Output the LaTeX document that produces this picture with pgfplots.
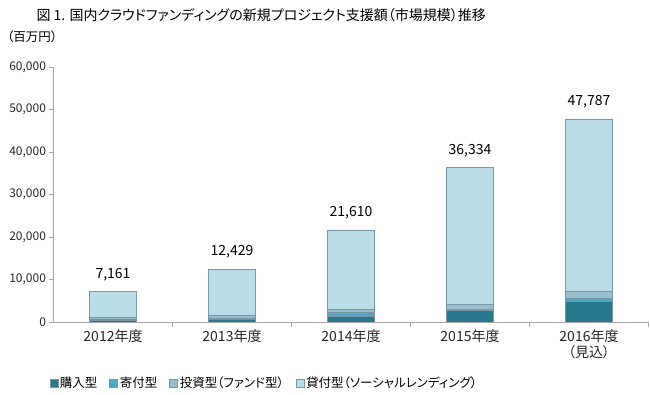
\documentclass[border=0pt]{standalone}
\usepackage{pgfplots}
\pgfplotsset{compat=1.18}
\usepackage{fontspec}
\setmainfont[RawFeature=+palt]{Noto Sans CJK JP}
\definecolor{cPur}{RGB}{40,120,142}
\definecolor{cDon}{RGB}{75,170,196}
\definecolor{cInv}{RGB}{150,190,204}
\definecolor{cLen}{RGB}{185,222,234}
\definecolor{cEdge}{RGB}{120,150,165}
\begin{document}
\begin{tikzpicture}[x=1pt,y=1pt]
\begin{axis}[
  at={(53.5pt,73pt)}, anchor=south west,
  scale only axis, width=595pt, height=255pt,
  ybar stacked, bar width=47pt,
  xmin=-0.5, xmax=4.5, ymin=0, ymax=60000,
  xtick={0,1,2,3,4},
  xticklabels={2012年度,2013年度,2014年度,2015年度,{2016年度\\（見込）}},
  xticklabel style={align=center, font=\fontsize{14}{16}\selectfont, text=black!85},
  minor xtick={0.5,1.5,2.5,3.5,4.5},
  major x tick style={draw=none},
  minor x tick style={draw=gray!70, thin},
  minor tick length=5pt,
  ytick={0,10000,20000,30000,40000,50000,60000},
  scaled y ticks=false,
  yticklabel style={font=\fontsize{12}{14}\selectfont, text=black!85, /pgf/number format/.cd, 1000 sep={,}, assume math mode=true},
  y tick style={draw=gray!70, thin},
  major tick length=4pt,
  tick align=outside, tick pos=left,
  axis x line*=bottom, axis y line*=left,
  axis line style={draw=gray!70, thin},
  x axis line style={-}, y axis line style={-},
  legend style={at={(-0.012,-0.24)}, anchor=west, draw=none, fill=none,
    font=\fontsize{12.5}{14}\selectfont, legend columns=4,
    /tikz/every even column/.append style={column sep=10pt}},
  legend image code/.code={\draw[#1, draw=cEdge] (0pt,-4pt) rectangle (8pt,4pt);},
  every axis plot/.append style={draw=cEdge, line width=0.4pt},
]
\addplot[fill=cPur] coordinates {(0,500) (1,700) (2,1250) (3,2700) (4,4900)};
\addplot[fill=cDon] coordinates {(0,200) (1,200) (2,1000) (3,350) (4,600)};
\addplot[fill=cInv] coordinates {(0,450) (1,700) (2,700) (3,1100) (4,1800)};
\addplot[fill=cLen] coordinates {(0,6011) (1,10829) (2,18660) (3,32184) (4,40487)};
\legend{購入型,寄付型,投資型（ファンド型）,貸付型（ソーシャルレンディング）}
\end{axis}
\begin{axis}[
  at={(53.5pt,73pt)}, anchor=south west,
  scale only axis, width=595pt, height=255pt,
  xmin=-0.5, xmax=4.5, ymin=0, ymax=60000,
  hide axis, clip=false,
]
\addplot[draw=none, mark=none, nodes near coords, point meta=explicit,
  nodes near coords style={anchor=south, yshift=7pt, font=\fontsize{14}{16}\selectfont, text=black,
    /pgf/number format/.cd, 1000 sep={,}, assume math mode=true}]
  coordinates {(0,7161) [7161] (1,12429) [12429] (2,21610) [21610] (3,36334) [36334] (4,47787) [47787]};
\end{axis}
\node[anchor=west, font=\fontsize{14}{17}\selectfont] at (33,380) {図 1. 国内クラウドファンディングの新規プロジェクト支援額（市場規模）推移};
\node[anchor=west, font=\fontsize{12.5}{14}\selectfont, inner sep=1pt] at (6,358) {（百万円）};
\pgfresetboundingbox
\useasboundingbox (0,0) rectangle (650,395);
\end{tikzpicture}
\end{document}
